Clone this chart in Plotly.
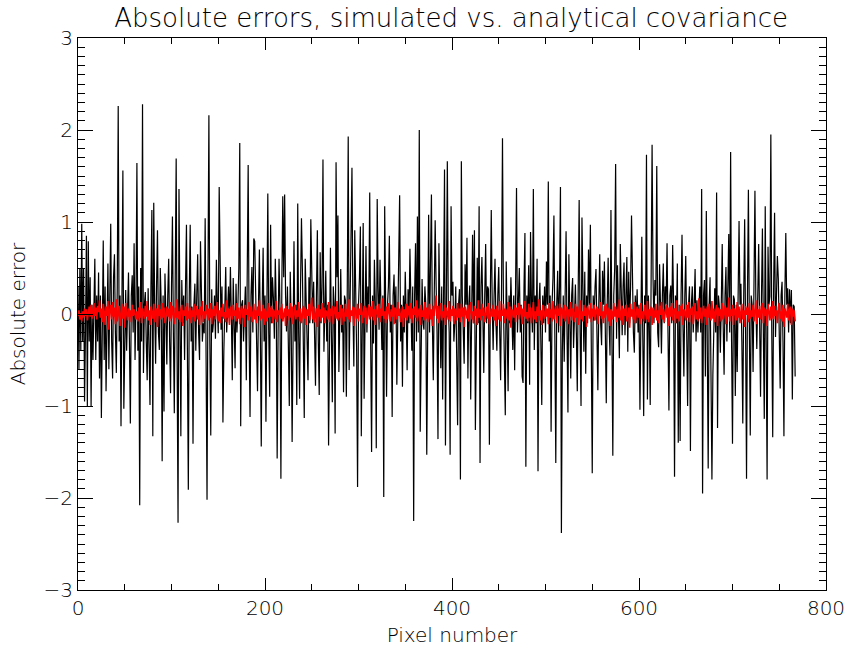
import plotly.graph_objects as go

title_text = "Absolute errors, simulated vs. analytical covariance"
x_label = "Pixel number"
y_label = "Absolute error"

# simulated - true (black)
sim_err = [
0.3,-0.6,0.5,-0.4,0.98,-0.3,0.5,-0.95,-0.2,0.85,-1.0,0.79,-0.3,0.4,-1.0,0.1,-0.5,0.3,0.6,-0.5,
0.2,-0.3,0.45,-0.7,0.2,-1.13,0.1,0.8,-0.5,0.3,-0.84,0.2,0.55,-0.6,0.1,0.98,-0.3,-0.7,0.4,0.65,
-0.2,-0.64,0.3,2.26,-0.3,0.2,-1.22,0.1,1.56,-1.03,-0.1,0.26,-0.4,0.0,0.45,-0.3,-1.19,0.2,0.42,-0.2,
0.77,-0.5,0.1,1.64,-0.4,0.3,-2.08,0.5,-0.3,2.28,-0.64,0.1,0.24,-0.3,-0.72,0.28,-0.2,-0.99,0.3,1.13,
-1.33,1.21,0.1,-0.54,0.3,0.91,-0.2,-0.39,0.5,0.1,-1.6,0.2,-1.06,0.44,0.0,-0.55,0.2,0.6,-0.3,-0.86,
0.3,1.06,-0.2,-1.08,0.4,1.69,-0.5,-2.27,1.36,0.2,-1.33,0.37,-0.1,0.2,-0.5,0.3,0.97,-0.4,-1.91,0.2,
0.97,-0.3,0.08,-1.41,0.1,0.33,-0.4,0.2,0.65,-0.2,-0.5,0.79,0.1,-0.3,-0.1,-0.21,1.04,-0.6,-2.02,0.4,
2.16,-0.3,-1.32,0.27,-0.2,-0.07,0.2,-0.27,0.59,0.1,-0.21,1.38,0.2,-0.17,0.3,-1.18,-0.4,0.2,0.51,-0.2,
0.13,0.3,-0.1,0.51,0.0,-0.72,0.39,-0.1,-0.59,0.33,-0.2,0.08,0.5,1.86,-1.22,0.1,0.15,-0.3,0.08,0.3,
-0.72,0.2,1.62,-0.2,-1.12,0.2,0.51,-0.2,0.82,0.79,0.19,-0.3,-0.84,0.1,0.7,-0.2,-1.44,0.1,0.72,-0.3,
0.2,-1.17,0.3,1.31,-0.2,-0.9,0.97,-0.1,0.4,0.17,-0.27,0.6,0.1,-1.57,-0.2,0.6,0.1,-1.79,0.3,1.28,
0.4,1.3,0.2,-0.19,0.3,-0.4,-1.0,0.46,-0.1,-1.39,0.2,0.79,-0.3,0.1,-0.99,1.2,-0.2,-0.92,0.3,1.04,
0.48,-0.3,-1.13,0.6,0.1,-0.3,-0.72,0.4,-0.1,1.03,0.2,-0.1,0.35,-0.3,-0.78,0.2,0.91,-0.3,-0.88,0.67,
-0.1,0.3,1.68,-0.41,0.2,0.47,-0.3,0.1,-1.43,0.3,0.72,-0.2,-0.96,0.3,0.11,-1.3,1.65,0.4,1.07,-0.63,
0.2,0.49,-0.2,0.1,-0.85,0.2,0.15,-0.9,0.3,1.93,-0.61,0.2,0.51,1.59,0.1,-0.57,0.91,0.2,-0.4,-1.88,
0.1,0.4,0.95,-1.33,0.2,0.99,-0.92,0.1,0.74,-0.2,0.3,0.1,1.32,-0.3,-1.5,0.2,-0.32,0.59,0.1,-1.46,
1.25,0.3,-0.17,0.59,0.1,-0.39,0.2,-1.99,1.17,0.2,-0.9,0.1,0.3,0.85,-0.2,0.1,-1.12,0.2,0.43,-0.1,
0.3,-0.77,0.1,0.4,1.29,-0.3,0.1,-0.79,0.2,-0.2,0.46,0.0,-0.61,0.27,-0.1,0.71,0.2,-0.4,0.3,-2.25,
0.2,0.77,-0.3,1.06,-0.2,2.0,-1.28,0.1,0.38,-0.1,-0.17,0.3,0.1,-1.53,0.3,1.08,-0.2,0.4,1.3,-0.1,
-0.72,0.2,1.02,0.31,-0.2,-1.36,0.77,0.1,-0.59,0.3,-0.93,0.2,1.57,-1.43,0.3,1.66,0.1,-0.2,-1.53,1.17,
0.2,0.35,-0.3,-0.1,0.3,-0.4,-1.21,0.1,0.27,-1.8,1.66,0.2,-0.3,-0.54,0.54,0.1,0.83,-0.7,0.1,0.31,
-0.93,0.2,0.86,-0.1,0.91,-1.26,0.2,0.61,-0.1,1.17,-1.62,0.3,0.62,-0.1,-0.64,0.2,0.76,-0.1,0.3,0.27,
-1.42,0.2,1.13,0.1,-0.39,0.2,0.6,-0.1,-0.4,0.2,0.51,-0.2,-0.72,0.3,1.91,0.1,-0.4,-1.1,0.57,-0.3,
-0.84,0.2,-0.1,0.4,0.1,-0.39,0.2,-0.61,0.3,1.37,-0.2,0.1,0.5,-0.2,0.1,-0.68,-0.75,0.3,0.88,-1.66,
0.2,-0.1,0.53,-0.77,0.89,0.1,-0.2,1.36,-0.39,0.2,-0.1,0.6,-1.71,0.1,0.34,-0.3,-0.99,0.2,-0.1,0.3,
-0.2,0.57,0.1,1.44,-0.3,0.2,-1.28,0.1,0.4,1.07,-0.2,-1.62,0.1,0.47,-0.2,0.3,1.38,-2.38,-0.41,0.2,
-0.52,0.3,0.9,-0.2,-1.07,0.65,0.1,-0.7,0.2,0.39,-0.37,0.1,0.32,-0.2,-0.84,0.3,1.24,-0.2,-1.0,1.05,
0.1,-0.41,0.46,-0.65,0.2,-0.1,0.7,0.1,0.97,-0.3,-1.73,0.2,-0.07,0.3,0.49,-0.2,-0.83,0.1,0.65,-0.1,
-0.34,0.47,0.1,0.57,-0.2,-0.97,0.1,0.61,-0.1,-0.45,1.13,-0.2,-1.54,0.2,0.5,1.63,-0.27,0.53,-0.1,-0.48,
0.76,0.1,-0.23,0.3,0.56,-0.23,0.2,0.62,-0.41,0.46,-0.1,0.3,1.07,0.1,-0.2,-0.42,0.2,-0.1,0.27,-0.2,
0.1,-1.04,0.3,0.84,-0.2,-1.11,0.2,-0.1,1.73,-0.93,0.2,-0.1,-0.99,0.4,1.84,0.4,-0.1,0.37,0.2,1.61,
-0.2,-0.36,0.54,0.1,-0.43,0.2,0.55,-0.1,0.3,0.1,0.77,-0.2,-1.05,0.2,0.31,-0.1,0.75,0.1,-1.77,0.2,
-0.1,0.55,-1.4,0.1,-1.38,0.2,0.86,-0.1,-0.68,0.2,0.63,-0.2,-1.0,0.1,0.3,-1.49,0.1,0.3,-0.2,0.1,
0.49,-0.3,0.15,-0.2,0.01,0.3,-0.2,1.36,-1.95,0.2,0.37,-0.68,1.12,-0.2,-1.68,0.1,0.4,-0.68,-1.8,-0.66,
0.1,0.28,-0.2,1.32,-1.24,0.2,0.07,-0.42,0.1,0.76,-0.1,-0.66,0.2,0.51,-0.3,0.51,0.87,-0.2,1.76,-0.3,
-1.41,0.2,0.16,-0.89,0.1,-0.63,0.3,1.01,0.1,0.33,-0.3,-1.19,0.2,1.03,-0.2,-1.79,0.2,1.35,-0.1,-1.32,
0.2,0.1,-0.63,0.3,1.34,0.1,-0.38,0.2,0.76,-0.1,-0.9,0.2,0.93,-0.2,-1.14,1.17,-0.3,-1.8,0.73,0.1,
0.19,1.95,-0.2,-1.34,0.3,1.1,-0.25,0.2,0.63,0.38,-0.1,-0.81,0.2,0.35,-0.3,-1.33,0.2,0.88,0.1,0.28,
-0.2,0.27,-0.1,0.26,-0.93,0.1,0.08,-0.68,
]

# analytical covariance errors (red)
ana_err = [
-0.02,0.04,-0.06,0.01,-0.08,0.03,-0.04,0.06,-0.02,0.05,-0.07,0.02,0.08,-0.03,0.10,-0.05,0.04,0.12,-0.02,0.07,-0.06,0.09,0.02,0.15,
-0.04,0.06,-0.09,0.11,0.03,-0.12,0.08,-0.02,0.14,-0.17,0.05,0.10,-0.06,0.13,-0.03,0.07,-0.11,0.16,-0.08,0.04,0.09,-0.13,0.02,0.11,
-0.05,0.08,-0.15,0.12,0.01,-0.07,0.06,-0.03,0.04,-0.09,0.10,-0.02,0.05,0.00,-0.06,0.03,-0.08,0.07,-0.04,0.13,-0.10,0.06,0.02,-0.05,
0.09,-0.03,0.14,-0.07,0.04,-0.12,0.08,0.01,-0.05,0.11,-0.09,0.03,0.06,-0.14,0.10,-0.02,0.05,-0.06,0.12,-0.04,0.07,-0.10,0.02,0.08,
-0.03,0.06,-0.08,0.13,-0.05,0.09,0.00,-0.11,0.07,-0.04,0.16,-0.06,0.03,-0.09,0.05,0.10,-0.13,0.04,-0.02,0.08,-0.07,0.12,-0.05,0.01,
0.07,-0.10,0.04,-0.03,0.11,-0.08,0.02,0.09,-0.06,0.05,-0.12,0.08,-0.01,0.14,-0.09,0.03,-0.05,0.10,0.01,-0.07,0.06,-0.04,0.12,-0.11,
0.05,-0.02,0.09,-0.06,0.03,0.13,-0.08,0.04,-0.10,0.07,-0.03,0.11,-0.05,0.02,-0.09,0.15,-0.04,0.06,-0.12,0.08,0.00,-0.06,0.10,-0.02,
0.04,-0.08,0.12,-0.05,0.07,-0.11,0.03,0.09,-0.04,0.06,-0.14,0.10,-0.01,0.05,-0.07,0.13,-0.03,0.08,-0.09,0.02,0.11,-0.06,0.04,-0.10,
0.08,-0.02,0.15,-0.07,0.03,-0.05,0.10,-0.12,0.06,0.01,-0.08,0.12,-0.04,0.07,-0.03,0.09,-0.10,0.05,0.02,-0.06,0.14,-0.09,0.04,-0.01,
0.07,-0.05,0.11,-0.08,0.03,0.06,-0.13,0.09,-0.02,0.05,-0.07,0.12,-0.04,0.08,-0.11,0.02,0.10,-0.06,0.04,-0.03,0.13,-0.08,0.06,-0.10,
0.03,0.09,-0.05,0.07,-0.12,0.05,-0.02,0.11,-0.07,0.04,0.18,-0.06,0.08,-0.09,0.02,0.06,-0.14,0.10,-0.03,0.05,-0.08,0.12,-0.04,0.07,
-0.10,0.04,0.01,-0.06,0.13,-0.09,0.06,-0.02,0.09,-0.11,0.03,0.08,-0.05,0.14,-0.07,0.02,-0.04,0.10,-0.12,0.06,0.00,-0.08,0.11,-0.03,
0.05,-0.06,0.16,-0.09,0.04,-0.02,0.08,-0.13,0.07,0.03,-0.05,0.11,-0.08,0.06,-0.01,0.12,-0.10,0.04,0.09,-0.04,0.07,-0.11,0.03,0.10,
-0.06,0.08,-0.03,0.14,-0.07,0.05,-0.12,0.09,0.02,-0.04,0.11,-0.09,0.06,-0.02,0.17,-0.05,0.03,-0.10,0.08,-0.06,0.12,0.01,-0.08,0.05,
-0.03,0.10,-0.11,0.07,0.04,-0.06,0.13,-0.02,0.06,-0.09,0.03,0.08,-0.14,0.05,-0.04,0.11,-0.07,0.09,0.00,-0.05,0.12,-0.10,0.06,-0.01,
0.08,-0.04,0.15,-0.08,0.02,0.06,-0.12,0.10,-0.03,0.04,-0.07,0.13,-0.05,0.07,-0.09,0.03,0.11,-0.06,0.05,-0.13,0.09,-0.02,0.06,0.20,
-0.05,0.09,-0.10,0.04,0.12,-0.07,0.03,-0.04,0.10,-0.12,0.07,0.01,-0.06,0.14,-0.08,0.05,-0.02,0.09,-0.11,0.06,0.03,-0.07,0.12,-0.04,
0.06,-0.09,0.11,-0.03,0.07,-0.14,0.08,0.02,-0.05,0.10,-0.08,0.04,0.13,-0.06,0.03,-0.10,0.09,-0.02,0.06,-0.12,0.15,-0.04,0.05,-0.07,
0.11,-0.02,0.07,-0.09,0.04,0.08,-0.05,0.12,-0.11,0.03,0.06,-0.03,0.10,-0.07,0.05,-0.13,0.09,0.01,-0.06,0.14,-0.08,0.04,-0.02,0.11,
-0.10,0.06,0.03,-0.05,0.13,-0.07,0.08,-0.15,0.05,0.02,-0.04,0.10,-0.09,0.07,-0.01,0.12,-0.06,0.04,0.09,-0.11,0.06,-0.03,0.14,-0.05,
0.02,-0.08,0.11,-0.04,0.07,-0.10,0.05,0.13,-0.06,0.03,-0.09,0.08,-0.02,0.16,-0.07,0.04,-0.12,0.10,0.01,-0.05,0.09,-0.03,0.06,-0.11,
0.12,-0.04,0.05,-0.08,0.14,-0.06,0.03,0.09,-0.10,0.06,-0.02,0.11,-0.13,0.07,0.04,-0.05,0.10,-0.08,0.02,0.08,-0.11,0.05,-0.03,0.13,
-0.07,0.06,0.01,-0.09,0.11,-0.04,0.08,-0.12,0.04,0.15,-0.06,0.03,-0.08,0.10,-0.02,0.07,-0.14,0.09,0.02,-0.05,0.12,-0.09,0.06,-0.03,
0.10,-0.07,0.04,0.08,-0.11,0.06,-0.02,0.13,-0.05,0.03,-0.10,0.09,-0.04,0.11,0.00,-0.08,0.07,-0.13,0.05,0.02,-0.06,0.12,-0.03,0.08,
-0.09,0.05,-0.04,0.16,-0.07,0.03,0.09,-0.12,0.06,-0.02,0.10,-0.08,0.04,0.07,-0.15,0.11,-0.03,0.05,-0.06,0.13,-0.10,0.02,0.08,-0.04,
0.06,-0.11,0.12,-0.05,0.03,-0.08,0.10,0.01,-0.06,0.14,-0.09,0.05,-0.02,0.08,-0.12,0.07,0.03,-0.04,0.11,-0.07,0.04,-0.10,0.09,-0.01,
0.13,-0.06,0.05,-0.09,0.02,0.10,-0.04,0.07,-0.13,0.08,-0.03,0.12,-0.07,0.04,0.06,-0.10,0.15,-0.05,0.03,-0.08,0.09,-0.02,0.11,-0.12,
0.05,0.02,-0.07,0.10,-0.04,0.13,-0.09,0.06,-0.01,0.08,-0.11,0.04,0.12,-0.06,0.03,-0.08,0.17,-0.05,0.07,-0.10,0.02,0.09,-0.03,0.06,
-0.12,0.08,-0.04,0.11,0.01,-0.07,0.14,-0.05,0.06,-0.09,0.03,0.10,-0.13,0.07,-0.02,0.05,-0.08,0.12,-0.06,0.04,0.09,-0.11,0.07,-0.03,
0.18,-0.08,0.05,-0.02,0.10,-0.12,0.06,0.03,-0.07,0.13,-0.04,0.08,-0.10,0.02,0.11,-0.06,0.04,-0.14,0.09,-0.01,0.07,-0.09,0.12,-0.05,
0.04,-0.03,0.10,-0.08,0.06,0.15,-0.11,0.05,-0.04,0.09,-0.06,0.02,0.12,-0.10,0.07,-0.02,0.05,-0.13,0.11,0.03,-0.07,0.08,-0.05,0.14,
-0.06,0.09,-0.02,0.04,-0.10,0.07,0.12,-0.05,0.03,-0.08,0.10,-0.14,0.06,0.01,-0.04,0.11,-0.07,0.05,0.08,-0.12,0.06,-0.03,0.04,-0.08,
]

x_sim = list(range(len(sim_err)))
x_ana = list(range(len(ana_err)))

FONT = "DejaVu Sans"

fig = go.Figure()
fig.add_trace(go.Scatter(x=x_sim, y=sim_err, mode="lines",
                         line=dict(color="black", width=1.2), hoverinfo="skip"))
fig.add_trace(go.Scatter(x=x_ana, y=ana_err, mode="lines",
                         line=dict(color="#ff0000", width=1.6), hoverinfo="skip"))

axis_common = dict(showline=True, linecolor="black", linewidth=1, mirror="ticks",
                   ticks="inside", tickcolor="black", tickwidth=1,
                   showgrid=False, zeroline=False, automargin=False,
                   tickfont=dict(family=FONT, size=20, color="black", weight=200))

fig.update_layout(
    width=848, height=650,
    margin=dict(l=78, r=22, t=38, b=60),
    paper_bgcolor="white", plot_bgcolor="white",
    showlegend=False,
    title=dict(text=title_text, x=0.532, xanchor="center", y=0.972, yanchor="middle",
               font=dict(family=FONT, size=26, color="black", weight=200)),
    xaxis=dict(range=[0, 800], dtick=200, tick0=0, ticklen=12,
               minor=dict(dtick=50, ticks="inside", ticklen=6, tickcolor="black"),
               title=dict(text=x_label, font=dict(family=FONT, size=20, color="black", weight=200), standoff=8),
               **axis_common),
    yaxis=dict(range=[-3, 3], dtick=1, tick0=0, ticklen=15,
               minor=dict(dtick=0.1, ticks="inside", ticklen=7, tickcolor="black"),
               title=dict(text=y_label, font=dict(family=FONT, size=20, color="black", weight=200), standoff=12),
               **axis_common),
)

fig.write_html("out.html")
